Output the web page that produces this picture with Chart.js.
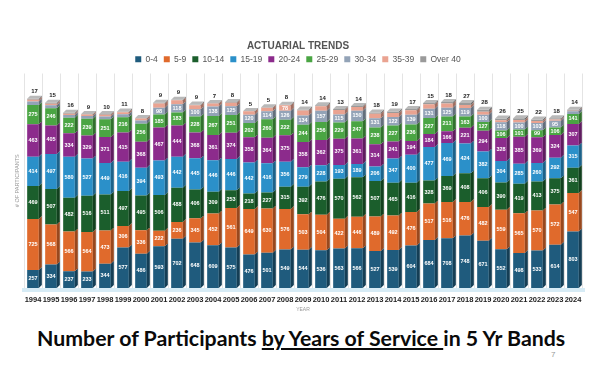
<!DOCTYPE html>
<html><head><meta charset="utf-8">
<script src="https://cdn.jsdelivr.net/npm/chart.js@4.4.0/dist/chart.umd.min.js"></script>
<style>
html,body{margin:0;padding:0;background:#fff;width:606px;height:390px;overflow:hidden;}
#wrap{position:absolute;left:0;top:0;width:606px;height:318px;}
#caption{position:absolute;left:37px;top:325px;font-family:Lato,'Liberation Sans',sans-serif;font-weight:700;font-size:21.3px;color:#0a0a0a;white-space:nowrap;}
#page{position:absolute;left:551px;top:350px;font-family:'Liberation Sans',sans-serif;font-size:8px;color:#999;}
</style></head><body>
<div id="wrap"><canvas id="c" width="606" height="318"></canvas></div>
<div id="caption">Number of Participants <u>by Years of Service </u>in 5 Yr Bands</div>
<div id="page">7</div>
<script>
const years = ['1994','1995','1996','1997','1998','1999','2000','2001','2002','2003','2004','2005','2006','2007','2008','2009','2010','2011','2012','2013','2014','2015','2016','2017','2018','2019','2020','2021','2022','2023','2024'];
const band0to4   = [257,334,237,233,344,577,486,593,702,648,609,575,476,501,549,544,536,563,566,527,539,604,684,708,748,671,552,498,533,614,803];
const band5to9   = [725,568,566,564,473,306,336,222,236,345,452,561,649,630,576,503,504,422,446,489,492,476,517,516,476,482,559,565,570,572,547];
const band10to14 = [469,507,482,516,511,497,495,506,488,406,309,253,218,227,315,392,476,570,562,507,465,416,328,369,408,406,390,419,413,375,361];
const band15to19 = [414,497,580,527,449,416,394,493,442,445,446,446,442,416,356,279,228,193,189,206,347,400,477,469,424,382,304,285,260,292,315];
const band20to24 = [463,405,334,329,371,415,368,467,444,368,361,374,358,364,375,358,362,375,361,314,241,194,184,166,221,294,328,385,369,324,307];
const band25to29 = [275,246,222,239,251,216,256,185,183,228,267,251,202,260,222,244,256,229,247,238,227,236,227,211,163,127,106,101,99,106,141];
const band30to34 = [48,42,38,38,40,44,48,98,118,100,138,125,120,114,126,134,157,115,150,131,122,139,131,125,119,100,118,100,103,95,38];
const band35to39 = [24,20,18,20,24,28,28,60,55,60,40,50,48,52,78,70,65,65,54,65,56,63,66,61,44,44,27,37,26,18,9];
const bandOver40 = [17,15,16,9,10,11,8,9,9,9,7,8,5,5,8,14,14,13,14,18,19,17,15,18,27,28,26,25,22,18,14];

const seriesNames = ['0-4','5-9','10-14','15-19','20-24','25-29','30-34','35-39','Over 40'];
const seriesData = [band0to4,band5to9,band10to14,band15to19,band20to24,band25to29,band30to34,band35to39,bandOver40];
const colors = ['#1f5b7d','#e06a2c','#1b5e2c','#2b90c9','#8c2b8c','#4aa543','#93a3b7','#eaa391','#9a9a9a'];

function shade(hex, f){
  const n=parseInt(hex.slice(1),16);
  let r=(n>>16)&255,g=(n>>8)&255,b=n&255;
  if(f<1){r*=f;g*=f;b*=f;} else {r=r+(255-r)*(f-1);g=g+(255-g)*(f-1);b=b+(255-b)*(f-1);}
  return 'rgb('+Math.round(r)+','+Math.round(g)+','+Math.round(b)+')';
}
const sideColors = colors.map(c=>shade(c,0.68));

Chart.defaults.font.family = "'Liberation Sans', Arial, sans-serif";

const bar3d = {
  id:'bar3d',
  beforeDatasetsDraw(chart){
    const {ctx, chartArea:{left,right,bottom}} = chart;
    ctx.save();
    ctx.fillStyle='#d6ebf5';
    ctx.fillRect(left-2, bottom, right-left+5, 4);
    ctx.restore();
  },
  afterDatasetsDraw(chart){
    const ctx=chart.ctx, d=3;
    const n=chart.data.datasets.length;
    ctx.save();
    chart.data.datasets.forEach((ds,i)=>{
      const meta=chart.getDatasetMeta(i);
      meta.data.forEach((el,j)=>{
        const p=el.getProps(['x','y','base','width'],true);
        const xl=p.x-p.width/2, xr=p.x+p.width/2;
        ctx.fillStyle=sideColors[i];
        ctx.beginPath();
        ctx.moveTo(xr,p.y);ctx.lineTo(xr+d,p.y-d);ctx.lineTo(xr+d,p.base-d);ctx.lineTo(xr,p.base);
        ctx.closePath();ctx.fill();
        if(i===n-1){
          ctx.fillStyle='#b9b9b9';
          ctx.beginPath();
          ctx.moveTo(xl,p.y);ctx.lineTo(xl+d,p.y-d);ctx.lineTo(xr+d,p.y-d);ctx.lineTo(xr,p.y);
          ctx.closePath();ctx.fill();
        }
      });
    });
    ctx.textAlign='center';ctx.textBaseline='middle';
    chart.data.datasets.forEach((ds,i)=>{
      const meta=chart.getDatasetMeta(i);
      meta.data.forEach((el,j)=>{
        const p=el.getProps(['x','y','base'],true);
        const v=ds.data[j];
        if(i===n-1){
          ctx.fillStyle='#222';
          ctx.font="bold 6px 'Liberation Sans', Arial, sans-serif";
          ctx.fillText(String(v),p.x+1.5,p.y-d-4);
        } else if(p.base-p.y>=5){
          ctx.fillStyle='#ffffff';
          ctx.font="bold 5.5px 'Liberation Sans', Arial, sans-serif";
          ctx.fillText(String(v),p.x,(p.y+p.base)/2);
        }
      });
    });
    ctx.restore();
  }
};

new Chart(document.getElementById('c'),{
  type:'bar',
  data:{
    labels:years,
    datasets:seriesNames.map((name,i)=>({
      label:name,
      data:seriesData[i],
      backgroundColor:colors[i],
      borderWidth:0,
      stack:'s',
      barPercentage:0.72,
      categoryPercentage:0.9
    }))
  },
  options:{
    responsive:false,
    animation:false,
    devicePixelRatio:1,
    layout:{padding:{top:40,left:14,right:24,bottom:5}},
    plugins:{
      title:{display:true,text:'ACTUARIAL TRENDS',color:'#555',font:{size:10,weight:'bold'},padding:{top:0,bottom:-3}},
      legend:{display:true,position:'top',labels:{boxWidth:6,boxHeight:6,padding:6,color:'#555',font:{size:8.5}}},
      tooltip:{enabled:false}
    },
    scales:{
      x:{
        stacked:true,
        grid:{display:true,color:'#e4e4e4',drawTicks:false},
        border:{display:false},
        ticks:{autoSkip:false,maxRotation:0,minRotation:0,padding:7,color:'#222',font:{size:7.5,weight:'bold'}},
        title:{display:true,text:'YEAR',color:'#999',font:{size:5},padding:{top:0,bottom:0}},
        afterFit(scale){ scale.height = 25; }
      },
      y:{
        stacked:true,min:0,max:3050,
        grid:{display:false,drawTicks:false},
        border:{display:false},
        ticks:{display:false},
        title:{display:true,text:'# OF PARTICIPANTS',color:'#999',font:{size:5.5},padding:{top:0,bottom:2}},
        afterFit(scale){ scale.width = 10; }
      }
    }
  },
  plugins:[bar3d]
});
</script>
</body></html>
